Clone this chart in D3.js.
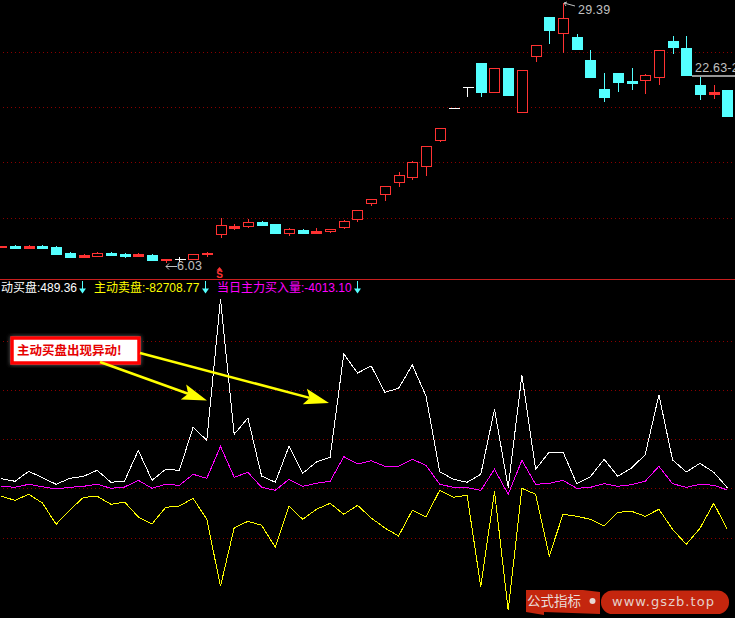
<!DOCTYPE html>
<html>
<head>
<meta charset="utf-8">
<style>
html,body{margin:0;padding:0;background:#000;overflow:hidden}
svg{display:block}
text{font-family:"Liberation Sans","Noto Sans CJK SC",sans-serif}
</style>
<script src="https://cdn.jsdelivr.net/npm/d3@7/dist/d3.min.js"></script>
</head>
<body>
<div id="chart"></div>
<script>
// daily bars
var opens  = [7.41,7.55,7.36,7.55,7.43,6.89,6.56,6.65,6.89,6.80,6.68,6.71,6.29,6.32,6.29,6.77,8.55,9.17,9.26,9.68,9.50,8.63,8.96,8.69,8.84,9.17,9.89,11.33,12.14,13.22,13.67,14.66,17.00,19.91,21.80,23.99,21.32,23.54,19.52,24.56,28.13,26.63,26.33,24.26,21.65,23.09,22.37,22.46,22.67,25.97,25.34,22.01,21.20,21.56];
var highs  = [7.48,7.58,7.61,7.61,7.52,7.01,6.77,7.01,7.01,6.86,6.92,6.83,6.35,6.53,6.77,7.01,10.01,9.50,9.95,9.77,9.50,9.11,9.05,9.14,9.02,9.83,10.73,11.72,12.89,14.18,15.14,16.49,18.11,19.91,21.80,23.99,23.51,23.54,23.33,25.58,28.13,29.39,26.60,25.16,23.09,23.09,23.54,23.00,25.13,26.42,26.42,22.73,22.01,21.56];
var lows   = [7.41,7.28,7.25,7.31,6.71,6.44,6.47,6.53,6.65,6.44,6.62,6.17,6.03,6.11,6.29,6.56,8.27,8.96,9.17,9.35,8.69,8.45,8.69,8.69,8.72,9.08,9.71,11.15,11.57,12.86,13.49,13.85,16.88,19.91,20.93,20.93,21.32,21.11,19.52,24.08,25.70,24.92,25.25,22.73,20.48,21.38,21.56,21.20,22.01,24.80,22.91,20.66,20.75,19.22];
var closes = [7.48,7.34,7.52,7.37,6.80,6.56,6.71,6.89,6.74,6.65,6.83,6.29,6.35,6.32,6.77,6.89,9.38,9.32,9.65,9.41,8.69,9.02,8.69,8.84,9.02,9.74,10.73,11.72,12.89,13.88,15.05,16.49,18.11,19.91,21.80,21.38,23.51,21.11,23.33,25.58,26.96,28.01,25.25,22.73,20.93,22.28,22.22,22.88,25.13,25.43,22.91,21.20,21.35,19.22];

// indicator series
var activeBuy  = [18600,13400,33400,20600,7400,19400,23400,35400,11400,14000,75400,15400,37400,35400,121400,95400,378000,107400,140000,24000,11400,83400,29400,52000,61400,268000,230000,244000,191400,199400,246000,184000,32600,17400,11400,27400,157400,1000,226000,37400,72000,72000,8600,22600,57400,23400,40000,66600,186000,56000,32000,49400,31400,489.36];
var activeSell = [-16600,-24600,-12600,-30000,-72600,-44000,-18600,-16600,-32600,-28000,-58000,-72000,-38600,-36000,-20600,-62600,-196600,-79400,-66600,-74600,-118600,-36600,-62600,-42600,-30600,-52600,-34600,-60000,-80000,-96000,-44600,-58000,-4600,-18600,-14600,-197400,-6600,-244600,-600,-12600,-136000,-52600,-56600,-62600,-76000,-48600,-46600,-56600,-42600,-82600,-112600,-80600,-30600,-82708.77];
var mainBuy    = [3400,1400,7400,2600,-2000,1400,3400,7400,-600,2000,15400,-600,7400,5400,27400,19400,83400,21400,31400,1400,-4600,17400,3400,9400,13400,62600,48000,54600,43400,43400,57400,45400,7400,1400,600,-4600,37400,-12600,55400,7400,9400,15400,-600,1400,8600,3400,6600,13400,43400,8600,1400,7400,5400,-4013.10];

var priceGrid = [24.98,20.03,15.08,10.04];
var indGrid   = [294000,196000,98000,0,-100000];

var legendBuy  = "动买盘:489.36";
var legendSell = "主动卖盘:-82708.77";
var legendMain = "当日主力买入量:-4013.10";
var note = "主动买盘出现异动!";
var highLabel = "29.39", lowLabel = "6.03", priceLabel = "22.63-2";
var siteName = "公式指标", siteUrl = "www.gszb.top";

var W = 735, H = 618;
var RED = "#ff3232", CYAN = "#54ffff", GRID = "#8a0000";

var svg = d3.select("#chart").append("svg").attr("width", W).attr("height", H).style("background", "#000");

var x  = d3.scaleLinear().domain([0, 53]).range([1.3, 727.4]);
var yP = d3.scaleLinear().domain([29.66, 4.55]).range([0, 279]);
var yI = d3.scaleLinear().domain([0, -200000]).range([488, 588]);

function px(v){ return Math.round(v) + 0.5; }

// dotted grid
svg.selectAll(".gp").data(priceGrid).enter().append("line")
  .attr("x1", 3).attr("x2", W).attr("y1", function(d){ return px(yP(d)); }).attr("y2", function(d){ return px(yP(d)); });
svg.selectAll(".gi").data(indGrid).enter().append("line")
  .attr("x1", 3).attr("x2", W).attr("y1", function(d){ return px(yI(d)); }).attr("y2", function(d){ return px(yI(d)); });
svg.selectAll("line").attr("stroke", GRID).attr("stroke-dasharray", "1 3").attr("shape-rendering", "crispEdges");

svg.append("line").attr("x1", 0).attr("x2", W).attr("y1", 279.5).attr("y2", 279.5)
  .attr("stroke", "#c81e1e").attr("shape-rendering", "crispEdges");

// candles
var bars = opens.map(function(o, i){
  return {i: i, o: o, h: highs[i], l: lows[i], c: closes[i]};
});
function barColor(d){
  if (d.o === d.c) return "#fff";
  return d.c > d.o ? RED : CYAN;
}
var candle = svg.append("g").attr("shape-rendering", "crispEdges")
  .selectAll("g").data(bars).enter().append("g");
candle.append("line")
  .attr("x1", function(d){ return px(x(d.i)); })
  .attr("x2", function(d){ return px(x(d.i)); })
  .attr("y1", function(d){ return Math.round(yP(d.h)); })
  .attr("y2", function(d){ return Math.round(yP(d.l)); })
  .attr("stroke", barColor);
// flat bars are just a dash
candle.filter(function(d){ return d.o === d.c; }).append("line")
  .attr("x1", function(d){ return px(x(d.i)) - 5; })
  .attr("x2", function(d){ return px(x(d.i)) + 6; })
  .attr("y1", function(d){ return px(yP(d.c)); })
  .attr("y2", function(d){ return px(yP(d.c)); })
  .attr("stroke", "#fff");
candle.filter(function(d){ return d.o !== d.c; }).append("rect")
  .attr("x", function(d){ return px(x(d.i)) - 5; })
  .attr("width", 10)
  .attr("y", function(d){ return px(yP(Math.max(d.o, d.c))); })
  .attr("height", function(d){ return Math.round(Math.abs(yP(d.o) - yP(d.c))); })
  .attr("stroke", barColor)
  .attr("fill", function(d){ return d.c - d.o > 0.17 ? "#000" : barColor(d); });

// price labels
svg.append("text").attr("x", 578).attr("y", 14).attr("fill", "#c0c0c0").attr("font-size", 12.5).attr("letter-spacing", 0.2).text(highLabel);
svg.append("path").attr("d", "M564 3L575 6M564 3l3 -1M564 3l2 3").attr("stroke", "#c0c0c0").attr("fill", "none");
svg.append("text").attr("x", 177).attr("y", 270).attr("fill", "#c0c0c0").attr("font-size", 12.5).attr("letter-spacing", 0.2).text(lowLabel);
svg.append("path").attr("d", "M177 266.5H166M166 266.5l3 -3M166 266.5l3 3").attr("stroke", "#c0c0c0").attr("fill", "none");
svg.append("text").attr("x", 695).attr("y", 72).attr("fill", "#c0c0c0").attr("font-size", 12.5).attr("letter-spacing", 0.2).text(priceLabel);
svg.append("rect").attr("x", 692).attr("y", 75).attr("width", 43).attr("height", 2).attr("fill", "#969696");

// sell signal under the bar
svg.append("path").attr("d", "M219.5 267l3 3.5h-6z").attr("fill", RED);
svg.append("text").attr("x", 219.5).attr("y", 278).attr("text-anchor", "middle").attr("fill", RED)
  .attr("font-size", 10).attr("font-weight", "bold").text("S");

// legend
var legend = [
  {t: legendBuy,  x: 1,   c: "#fff",    a: 82.5},
  {t: legendSell, x: 94,  c: "#ffff00", a: 205.5},
  {t: legendMain, x: 217, c: "#ff00ff", a: 357.5}
];
legend.forEach(function(l){
  svg.append("text").attr("x", l.x).attr("y", 292).attr("fill", l.c).attr("font-size", 12).text(l.t);
  svg.append("path").attr("d", "M" + l.a + " 281V290").attr("stroke", CYAN);
  svg.append("path").attr("d", "M" + (l.a - 3.5) + " 288.5h7l-3.5 5z").attr("fill", CYAN);
});

// indicator lines
var line = d3.line().x(function(d, i){ return x(i); }).y(function(d){ return yI(d); });
var g = svg.append("g").attr("fill", "none").attr("stroke-width", 1).attr("shape-rendering", "crispEdges");
g.append("path").datum(activeBuy).attr("d", line).attr("stroke", "#fff");
g.append("path").datum(activeSell).attr("d", line).attr("stroke", "#ffff00");
g.append("path").datum(mainBuy).attr("d", line).attr("stroke", "#ff00ff");

// callout
var defs = svg.append("defs");
defs.append("filter").attr("id", "glow").attr("x", "-10%").attr("y", "-20%").attr("width", "120%").attr("height", "140%")
  .append("feDropShadow").attr("dx", 0).attr("dy", 0).attr("stdDeviation", 2).attr("flood-color", "#666");
svg.append("rect").attr("x", 12).attr("y", 338).attr("width", 127).attr("height", 25)
  .attr("fill", "#fff").attr("stroke", "#ff0000").attr("stroke-width", 3.5).attr("filter", "url(#glow)");
svg.append("text").attr("x", 17).attr("y", 355).attr("fill", "#e60000").attr("font-size", 12.5).attr("font-weight", "bold")
  .style("font-family", '"Noto Sans CJK SC",sans-serif').text(note);

function arrow(x1, y1, x2, y2){
  var a = Math.atan2(y2 - y1, x2 - x1), len = Math.hypot(x2 - x1, y2 - y1);
  var n = svg.append("g").attr("transform", "translate(" + x1 + "," + y1 + ") rotate(" + (a * 180 / Math.PI) + ")");
  n.append("line").attr("x1", 0).attr("y1", 0).attr("x2", len - 20).attr("y2", 0).attr("stroke", "#ffff00").attr("stroke-width", 2.5);
  n.append("path").attr("d", "M" + len + " 0L" + (len - 25) + " -8L" + (len - 20) + " 0L" + (len - 25) + " 8Z").attr("fill", "#ffff00");
}
arrow(100, 362, 207, 400.5);
arrow(140, 353, 329, 403);

// site mark
svg.append("path").attr("d", "M526 590H583L600 592V614L544 612L544 615L526 612Z").attr("fill", "#c4260e");
svg.append("text").attr("x", 527).attr("y", 606).attr("fill", "#eadcd8").attr("font-size", 13.5)
  .style("font-family", '"Noto Sans CJK SC",sans-serif').text(siteName);
svg.append("circle").attr("cx", 592.5).attr("cy", 601).attr("r", 3).attr("fill", "#e8d8d4");
svg.append("rect").attr("x", 601).attr("y", 590.5).attr("width", 128).attr("height", 23.5).attr("rx", 11.5).attr("fill", "#c4260e");
svg.append("text").attr("x", 612).attr("y", 606).attr("fill", "#e6cfc9").attr("font-size", 13).attr("letter-spacing", 1.05)
  .style("font-family", '"DejaVu Sans",sans-serif').text(siteUrl);
</script>
</body>
</html>
